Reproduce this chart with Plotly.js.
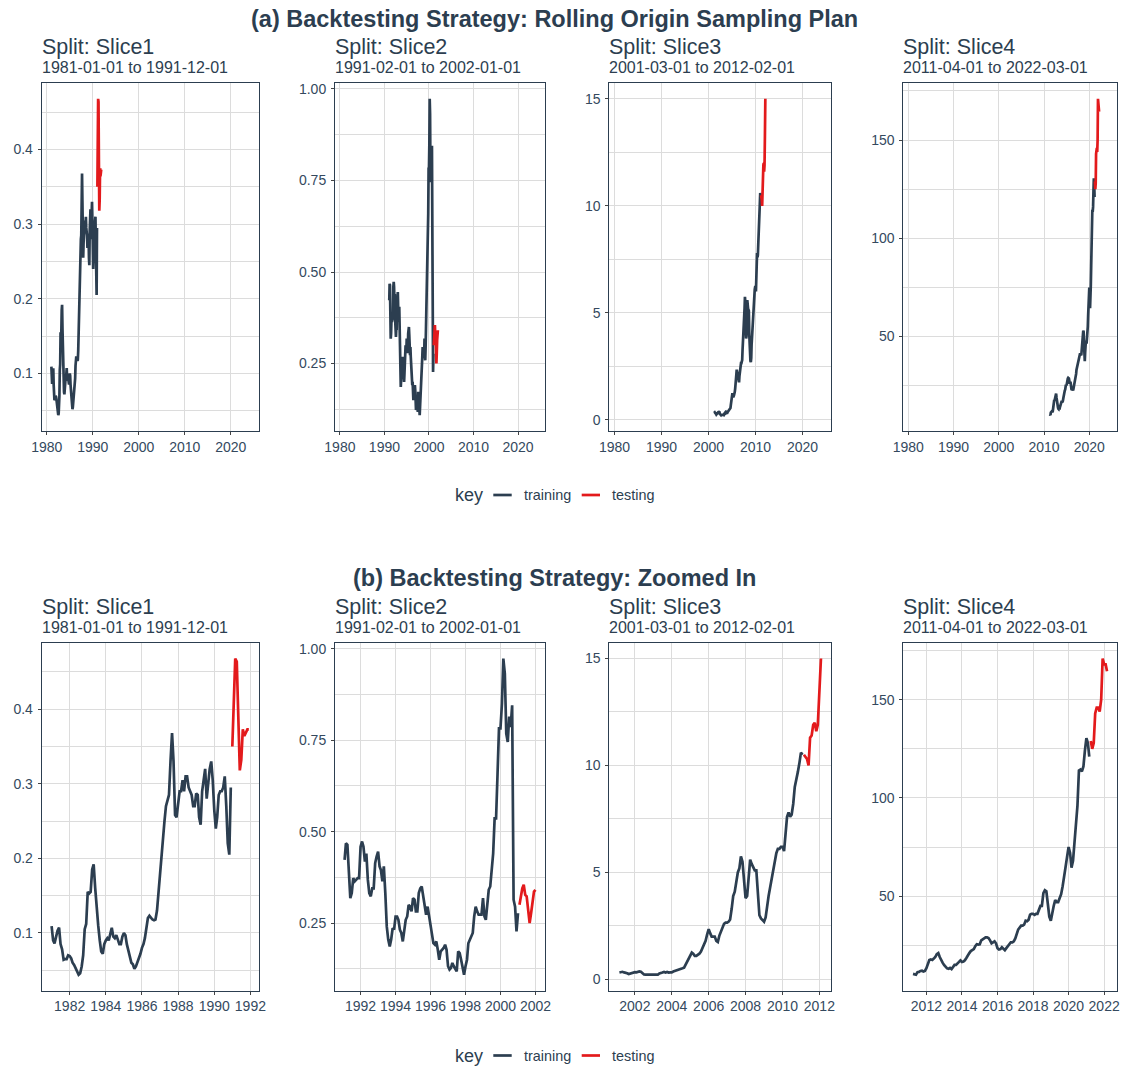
<!DOCTYPE html>
<html>
<head>
<meta charset="utf-8">
<script src="https://cdn.plot.ly/plotly-3.0.1.min.js"></script>
<style>
html, body { margin: 0; padding: 0; background: #ffffff; }
#chart { width: 1122px; height: 1069px; }
</style>
</head>
<body>
<div id="chart"></div>
<script>
// ---- DATA (monthly adjusted price) ----
const firstYear = 1981;
const price1980s = [ // 1981-01 .. 1990-12
  0.109, 0.090, 0.086, 0.097, 0.103, 0.107, 0.085, 0.078, 0.064, 0.065, 0.065, 0.070,
  0.069, 0.066, 0.060, 0.057, 0.052, 0.047, 0.044, 0.046, 0.055, 0.070, 0.105, 0.112,
  0.155, 0.153, 0.155, 0.185, 0.192, 0.160, 0.130, 0.110, 0.090, 0.075, 0.072, 0.085,
  0.090, 0.093, 0.090, 0.100, 0.107, 0.095, 0.093, 0.097, 0.090, 0.085, 0.085, 0.095,
  0.100, 0.097, 0.085, 0.077, 0.070, 0.060, 0.058, 0.052, 0.055, 0.060, 0.065, 0.072,
  0.080, 0.085, 0.093, 0.110, 0.120, 0.123, 0.120, 0.118, 0.117, 0.118, 0.130, 0.155,
  0.185, 0.210, 0.230, 0.250, 0.270, 0.280, 0.285, 0.330, 0.368, 0.330, 0.258, 0.255,
  0.275, 0.290, 0.290, 0.305, 0.290, 0.310, 0.310, 0.295, 0.290, 0.285, 0.270, 0.270,
  0.287, 0.285, 0.255, 0.245, 0.290, 0.310, 0.320, 0.280, 0.305, 0.320, 0.330, 0.305,
  0.265, 0.240, 0.255, 0.285, 0.290, 0.290, 0.295, 0.310, 0.270, 0.220, 0.205, 0.295
];
const price1990s = [ // 1991-01 .. 2000-12
  0.350, 0.423, 0.468, 0.464, 0.386, 0.318, 0.332, 0.373, 0.364, 0.368, 0.373, 0.373,
  0.459, 0.473, 0.459, 0.418, 0.440, 0.368, 0.332, 0.323, 0.345, 0.345, 0.414, 0.432,
  0.445, 0.405, 0.395, 0.364, 0.405, 0.332, 0.241, 0.205, 0.186, 0.205, 0.236, 0.232,
  0.268, 0.268, 0.259, 0.232, 0.223, 0.200, 0.223, 0.259, 0.268, 0.300, 0.295, 0.282,
  0.318, 0.314, 0.282, 0.282, 0.332, 0.345, 0.350, 0.327, 0.295, 0.273, 0.295, 0.268,
  0.241, 0.214, 0.195, 0.191, 0.200, 0.177, 0.150, 0.173, 0.177, 0.182, 0.191, 0.177,
  0.132, 0.123, 0.127, 0.141, 0.132, 0.123, 0.118, 0.173, 0.168, 0.150, 0.127, 0.109,
  0.132, 0.150, 0.195, 0.205, 0.218, 0.223, 0.268, 0.295, 0.282, 0.273, 0.273, 0.273,
  0.318, 0.268, 0.259, 0.295, 0.341, 0.350, 0.395, 0.440, 0.536, 0.536, 0.659, 0.782,
  0.782, 0.850, 0.973, 0.932, 0.768, 0.745, 0.814, 0.786, 0.845, 0.314, 0.295, 0.227
];
const price2000s = [ // 2001-01 .. 2010-12
  0.277, 0.300, 0.323, 0.345, 0.355, 0.327, 0.323, 0.286, 0.250, 0.277, 0.314, 0.336,
  0.341, 0.330, 0.360, 0.370, 0.360, 0.280, 0.230, 0.220, 0.220, 0.240, 0.240, 0.220,
  0.230, 0.230, 0.220, 0.220, 0.280, 0.290, 0.320, 0.350, 0.320, 0.350, 0.320, 0.330,
  0.330, 0.370, 0.400, 0.400, 0.430, 0.480, 0.500, 0.520, 0.550, 0.700, 0.850, 1.000,
  1.100, 1.250, 1.200, 1.100, 1.100, 1.150, 1.200, 1.300, 1.450, 1.600, 1.800, 2.100,
  2.350, 2.150, 2.000, 2.000, 2.000, 1.800, 1.750, 2.050, 2.250, 2.450, 2.600, 2.650,
  2.650, 2.700, 2.800, 3.300, 3.900, 4.100, 4.600, 5.000, 5.200, 5.750, 5.500, 4.400,
  3.800, 3.900, 4.600, 5.600, 5.400, 5.200, 5.100, 5.100, 4.000, 3.000, 2.850, 2.750,
  2.700, 2.900, 3.500, 3.900, 4.300, 4.700, 5.100, 5.600, 5.900, 6.100, 6.100, 6.200,
  6.200, 6.000, 7.000, 7.600, 7.800, 7.600, 7.700, 8.200, 9.000, 9.300, 9.700, 10.100
];
const price2010s = [ // 2011-01 .. 2020-12
  10.60, 10.50, 10.50, 10.40, 10.30, 10.00, 11.30, 11.40, 11.90, 12.00, 11.60, 11.90,
  13.30, 15.00, 17.50, 17.80, 17.50, 18.20, 19.00, 20.50, 21.00, 19.00, 17.00, 16.00,
  14.80, 13.80, 13.20, 13.00, 13.50, 12.90, 14.00, 15.00, 15.00, 16.00, 16.50, 17.30,
  16.50, 16.70, 17.30, 18.50, 20.00, 21.00, 22.00, 22.50, 23.00, 24.50, 25.50, 25.30,
  25.50, 27.50, 28.00, 28.70, 29.00, 29.00, 28.70, 27.50, 26.00, 26.50, 27.00, 26.00,
  23.50, 22.80, 23.00, 24.00, 23.00, 22.50, 23.50, 24.50, 25.50, 26.50, 26.50, 27.00,
  28.50, 31.00, 33.00, 34.00, 35.00, 35.00, 35.50, 37.50, 37.20, 38.00, 40.60, 41.00,
  41.00, 40.50, 41.00, 41.00, 43.50, 45.00, 45.00, 51.50, 53.00, 52.50, 46.00, 39.50,
  37.50, 42.00, 45.00, 48.00, 47.00, 47.00, 49.00, 51.00, 55.00, 61.00, 65.00, 70.00,
  75.00, 72.00, 64.50, 68.00, 76.00, 86.00, 96.00, 114.0, 114.5, 113.5, 116.0, 124.0
];
const price2020s = [ // 2021-01 .. 2022-03
  130.5, 128.0, 121.0, 129.0, 125.0, 128.0, 143.0, 146.0, 146.0, 144.0, 150.0, 171.0,
  168.0, 168.0, 164.5
];

const splitNames = ['Slice1', 'Slice2', 'Slice3', 'Slice4'];
const splitStart = ['1981-01-01', '1991-02-01', '2001-03-01', '2011-04-01'];
const testStart  = ['1991-01-01', '2001-02-01', '2011-03-01', '2021-04-01'];
const splitEnd   = ['1991-12-01', '2002-01-01', '2012-02-01', '2022-03-01'];
const keyLabels  = ['training', 'testing'];
const yTickStep  = [0.1, 0.25, 5, 50];
const yTickFmt   = ['.1f', '.2f', '', ''];
const rowTitles  = ['(a) Backtesting Strategy: Rolling Origin Sampling Plan',
                    '(b) Backtesting Strategy: Zoomed In'];

// ---- build series ----
const price = [].concat(price1980s, price1990s, price2000s, price2010s, price2020s);
const dates = price.map((v, i) => {
  const y = firstYear + Math.floor(i / 12), m = (i % 12) + 1;
  return y + '-' + String(m).padStart(2, '0') + '-01';
});

// ---- styling ----
const W = 1122, H = 1069;
const FONT = 'Liberation Sans, Arial, Helvetica, sans-serif';
const INK = '#2c3e50';
const TXT = '#34495e';
const GRID = '#dcdcdc';
const colTrain = '#2c3e50';
const colTest = '#e31a1c';
const colL = [41.7, 335, 609.3, 903.3];
const colR = [258.7, 545, 831, 1116.7];
const rowTop = [83, 642.7];
const rowBot = [431, 990.5];
const rowShift = 559.7;
const topRange = ['1978-11-25', '2026-01-20'];

const px = (v) => v / W;
const py = (v) => 1 - v / H;

const traces = [];
const layout = {
  width: W, height: H,
  margin: { l: 0, r: 0, t: 0, b: 0 },
  paper_bgcolor: '#ffffff',
  plot_bgcolor: '#ffffff',
  showlegend: false,
  font: { family: FONT, color: TXT },
  annotations: [],
  shapes: []
};

for (let r = 0; r < 2; r++) {
  for (let k = 0; k < 4; k++) {
    const idx = r * 4 + k + 1;
    const xa = idx === 1 ? 'x' : 'x' + idx;
    const ya = idx === 1 ? 'y' : 'y' + idx;
    const trX = [], trY = [], teX = [], teY = [];
    let lo = Infinity, hi = -Infinity;
    dates.forEach((d, i) => {
      if (d >= splitStart[k] && d < testStart[k]) { trX.push(d); trY.push(price[i]); }
      else if (d >= testStart[k] && d <= splitEnd[k]) { teX.push(d); teY.push(price[i]); }
      else return;
      lo = Math.min(lo, price[i]); hi = Math.max(hi, price[i]);
    });
    traces.push({ type: 'scatter', mode: 'lines', x: trX, y: trY, xaxis: xa, yaxis: ya,
      name: keyLabels[0], line: { color: colTrain, width: 2.7 }, hoverinfo: 'x+y' });
    traces.push({ type: 'scatter', mode: 'lines', x: teX, y: teY, xaxis: xa, yaxis: ya,
      name: keyLabels[1], line: { color: colTest, width: 2.7 }, hoverinfo: 'x+y' });

    const padY = (hi - lo) * 0.05;
    let xr;
    if (r === 0) {
      xr = topRange;
    } else {
      const t0 = Date.parse(splitStart[k]), t1 = Date.parse(splitEnd[k]);
      const pad = (t1 - t0) * 0.05;
      xr = [new Date(t0 - pad).toISOString().slice(0, 10), new Date(t1 + pad).toISOString().slice(0, 10)];
    }
    const common = {
      showline: true, mirror: true, linecolor: INK, linewidth: 1,
      showgrid: true, gridcolor: GRID, gridwidth: 1,
      zeroline: false,
      ticks: 'outside', ticklen: 3, tickwidth: 1, tickcolor: '#444444',
      tickfont: { family: FONT, size: 14, color: TXT },
      fixedrange: true
    };
    layout[idx === 1 ? 'xaxis' : 'xaxis' + idx] = Object.assign({}, common, {
      type: 'date', anchor: ya,
      domain: [px(colL[k]), px(colR[k])],
      range: xr,
      tick0: '1980-01-01', dtick: r === 0 ? 'M120' : 'M24', tickformat: '%Y',
      ticklabelstandoff: 0
    });
    layout[idx === 1 ? 'yaxis' : 'yaxis' + idx] = Object.assign({}, common, {
      anchor: xa,
      domain: [py(rowBot[r]), py(rowTop[r])],
      range: [lo - padY, hi + padY],
      tick0: 0, dtick: yTickStep[k], tickformat: yTickFmt[k],
      ticklabelstandoff: 2,
      minor: { tick0: 0, dtick: yTickStep[k] / 2, showgrid: true, gridcolor: GRID, gridwidth: 1, ticks: '' }
    });

    // facet strip titles
    layout.annotations.push({
      xref: 'paper', yref: 'paper', x: px(colL[k] - 2), y: py(47 + r * rowShift),
      xanchor: 'left', yanchor: 'middle', showarrow: false,
      text: 'Split: ' + splitNames[k],
      font: { family: FONT, size: 21.5, color: INK }
    });
    layout.annotations.push({
      xref: 'paper', yref: 'paper', x: px(colL[k] - 2), y: py(67.5 + r * rowShift),
      xanchor: 'left', yanchor: 'middle', showarrow: false,
      text: splitStart[k] + ' to ' + splitEnd[k],
      font: { family: FONT, size: 16, color: INK }
    });
  }

  // row title
  layout.annotations.push({
    xref: 'paper', yref: 'paper', x: px(554), y: py(18.5 + r * rowShift),
    xanchor: 'center', yanchor: 'middle', showarrow: false,
    text: '<b>' + rowTitles[r] + '</b>',
    font: { family: FONT, size: 23.5, color: INK }
  });

  // legend (key)
  const ly = 495 + r * 560.5;
  layout.annotations.push({
    xref: 'paper', yref: 'paper', x: px(453), y: py(ly),
    xanchor: 'left', yanchor: 'middle', showarrow: false,
    text: 'key', font: { family: FONT, size: 18, color: INK }
  });
  layout.shapes.push({ type: 'line', xref: 'paper', yref: 'paper',
    x0: px(493.3), x1: px(511.7), y0: py(ly), y1: py(ly),
    line: { color: colTrain, width: 2.7 } });
  layout.annotations.push({
    xref: 'paper', yref: 'paper', x: px(522), y: py(ly),
    xanchor: 'left', yanchor: 'middle', showarrow: false,
    text: keyLabels[0], font: { family: FONT, size: 14.4, color: INK }
  });
  layout.shapes.push({ type: 'line', xref: 'paper', yref: 'paper',
    x0: px(581.7), x1: px(600), y0: py(ly), y1: py(ly),
    line: { color: colTest, width: 2.7 } });
  layout.annotations.push({
    xref: 'paper', yref: 'paper', x: px(610), y: py(ly),
    xanchor: 'left', yanchor: 'middle', showarrow: false,
    text: keyLabels[1], font: { family: FONT, size: 14.4, color: INK }
  });
}

Plotly.newPlot('chart', traces, layout, { staticPlot: true, displayModeBar: false });
</script>
</body>
</html>
